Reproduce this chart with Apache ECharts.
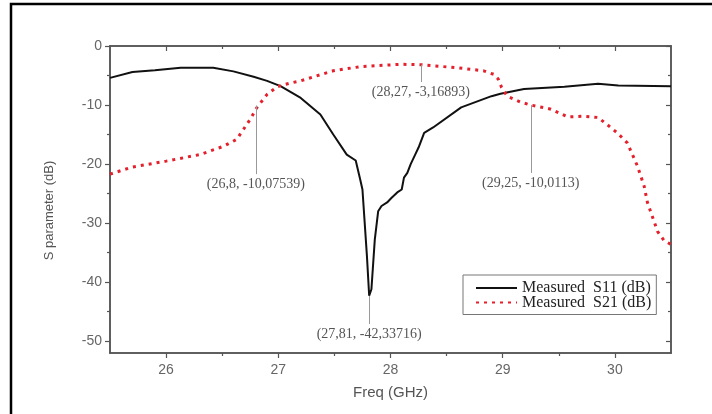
<!DOCTYPE html>
<html>
<head>
<meta charset="utf-8">
<script src="https://cdn.jsdelivr.net/npm/echarts@6/dist/echarts.min.js"></script>
<style>
  html, body { margin: 0; padding: 0; background: #fff; }
  #chart { width: 712px; height: 414px; }
</style>
</head>
<body>
<div id="chart"></div>
<script>
// measured curves
const s11Freq = [25.5, 25.7, 25.9, 26.13, 26.42, 26.6, 26.78, 26.9, 27.02, 27.2, 27.375, 27.49, 27.61, 27.69, 27.73,
  27.75, 27.79, 27.81, 27.83, 27.86, 27.89, 27.92, 27.97, 28.01, 28.06, 28.1, 28.12, 28.15, 28.18, 28.22, 28.25,
  28.3, 28.38, 28.63, 28.9, 28.98, 29.19, 29.55, 29.85, 30.03, 30.5];
const s11Db = [-5.4, -4.4, -4.1, -3.7, -3.7, -4.3, -5.2, -5.9, -6.8, -8.8, -11.6, -15.0, -18.4, -19.4, -22.6,
  -24.3, -35.6, -42.3, -41.2, -32.8, -28.0, -27.1, -26.5, -25.7, -24.8, -24.3, -22.3, -21.5, -20.0, -18.4, -17.2,
  -14.7, -13.8, -10.4, -8.5, -8.1, -7.3, -6.9, -6.4, -6.7, -6.8];

const s21Freq = [25.5, 25.7, 26.0, 26.3, 26.51, 26.63, 26.69, 26.75, 26.81, 26.9, 26.99, 27.1, 27.2, 27.49, 27.73,
  28.09, 28.27, 28.6, 28.83, 28.92, 28.96, 28.99, 29.04, 29.16, 29.25, 29.43, 29.58, 29.72, 29.85, 29.93, 30.02,
  30.11, 30.2, 30.26, 30.29, 30.38, 30.44, 30.5];
const s21Db = [-21.7, -20.5, -19.5, -18.4, -17.0, -15.8, -14.1, -12.4, -10.4, -8.2, -6.9, -6.3, -5.9, -4.2, -3.5,
  -3.1, -3.17, -3.7, -4.2, -4.8, -5.6, -7.0, -8.5, -9.5, -10.0, -10.7, -12.0, -11.9, -12.1, -13.3, -14.7,
  -16.4, -20.3, -23.7, -26.5, -31.4, -33.0, -33.6];

const xMajor = [26, 27, 28, 29, 30];
const xMinor = [26.5, 27.5, 28.5, 29.5];
const yMajor = [0, -10, -20, -30, -40, -50];
const yMinor = [-5, -15, -25, -35, -45];

// annotated points: [freq, dB, end of leader line (dB), text]
const s21Notes = [
  [26.8, -10.07539, -21.7, '(26,8, -10,07539)'],
  [28.27, -3.16893, -6.1, '(28,27, -3,16893)'],
  [29.25, -10.0113, -21.5, '(29,25, -10,0113)']
];
const s11Notes = [
  [27.81, -42.33716, -47.1, '(27,81, -42,33716)']
];

const zip = (xs, ys) => xs.map((x, i) => [x, ys[i]]);
const noteLines = (notes) => notes.map(n => [
  { name: n[3], coord: [n[0], n[1]] },
  { coord: [n[0], n[2]] }
]);

const axisColor = '#555';
const sans = 'Liberation Sans';
const serif = 'Liberation Serif';

function xAx(position, ticks, len, inside, extra) {
  return Object.assign({
    type: 'value', min: 25.5, max: 30.5, position: position,
    axisLine: { show: true, onZero: false, lineStyle: { color: axisColor, width: 1.5 } },
    axisTick: { show: true, inside: inside, length: len, customValues: ticks, lineStyle: { color: axisColor, width: 1.2 } },
    axisLabel: { show: false },
    splitLine: { show: false }
  }, extra || {});
}
function yAx(position, ticks, len, inside, extra) {
  return Object.assign({
    type: 'value', min: -52, max: 0, position: position,
    axisLine: { show: true, onZero: false, lineStyle: { color: axisColor, width: 1.5 } },
    axisTick: { show: true, inside: inside, length: len, customValues: ticks, lineStyle: { color: axisColor, width: 1.2 } },
    axisLabel: { show: false },
    splitLine: { show: false }
  }, extra || {});
}

const chart = echarts.init(document.getElementById('chart'));
chart.setOption({
  animation: false,
  backgroundColor: '#fff',
  grid: { left: 110, top: 46, width: 561, height: 307 },
  graphic: [{
    type: 'rect', silent: true,
    shape: { x: 11, y: 4, width: 760, height: 460 },
    style: { fill: 'none', stroke: '#000', lineWidth: 2.5 }
  }],
  legend: {
    orient: 'vertical', left: 463, top: 275,
    padding: [5, 5, 4, 12], itemGap: -1.5,
    itemWidth: 41, itemHeight: 12,
    itemStyle: { opacity: 0 },
    borderColor: '#777', borderWidth: 1,
    textStyle: { fontFamily: serif, fontSize: 16, color: '#222' },
    data: ['Measured  S11 (dB)', 'Measured  S21 (dB)']
  },
  xAxis: [
    xAx('bottom', xMajor, 5, false, {
      name: 'Freq (GHz)', nameLocation: 'middle', nameGap: 32,
      nameTextStyle: { fontFamily: sans, fontSize: 15, color: '#555' },
      axisLabel: { show: true, customValues: xMajor, margin: 10, fontFamily: sans, fontSize: 14, color: '#666' }
    }),
    xAx('bottom', xMinor, 3, false),
    xAx('top', xMajor, 5, true),
    xAx('top', xMinor, 3, true)
  ],
  yAxis: [
    yAx('left', yMajor, 5, false, {
      name: 'S parameter (dB)', nameLocation: 'middle', nameGap: 54, nameRotate: 90,
      nameTextStyle: { fontFamily: sans, fontSize: 13, color: '#555', padding: [0, 22, 0, 0] },
      axisLabel: { show: true, customValues: yMajor, margin: 8, fontFamily: sans, fontSize: 14, color: '#666' }
    }),
    yAx('left', yMinor, 3, false),
    yAx('right', yMajor, 5, true),
    yAx('right', yMinor, 3, true)
  ],
  series: [
    {
      name: 'Measured  S11 (dB)', type: 'line', xAxisIndex: 0, yAxisIndex: 0,
      data: zip(s11Freq, s11Db), symbol: 'none', z: 3,
      lineStyle: { color: '#111', width: 2 },
      itemStyle: { color: '#111' },
      markLine: {
        silent: true, symbol: ['none', 'none'],
        lineStyle: { color: '#999', width: 1, type: 'solid' },
        label: { position: 'end', distance: 3, formatter: '{b}', fontFamily: serif, fontSize: 14, color: '#555' },
        data: noteLines(s11Notes)
      }
    },
    {
      name: 'Measured  S21 (dB)', type: 'line', xAxisIndex: 0, yAxisIndex: 0,
      data: zip(s21Freq, s21Db), symbol: 'none', z: 4,
      lineStyle: { color: '#e3202c', width: 3, type: [3, 5], cap: 'butt' },
      itemStyle: { color: '#e3202c' },
      markLine: {
        silent: true, symbol: ['none', 'none'],
        lineStyle: { color: '#999', width: 1, type: 'solid' },
        label: { position: 'end', distance: 3, formatter: '{b}', fontFamily: serif, fontSize: 14, color: '#555' },
        data: noteLines(s21Notes)
      }
    }
  ]
});
</script>
</body>
</html>
